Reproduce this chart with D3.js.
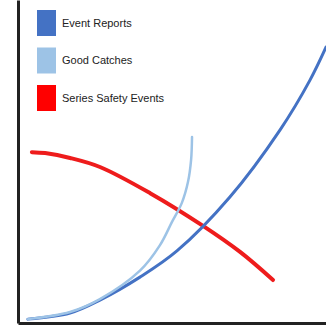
<!DOCTYPE html>
<html>
<head>
<meta charset="utf-8">
<script src="https://cdn.jsdelivr.net/npm/d3@7/dist/d3.min.js"></script>
<style>
  html, body { margin: 0; padding: 0; background: #fff; }
  svg { display: block; }
</style>
</head>
<body>
<svg id="chart" width="326" height="328"></svg>
<script>
// Series names and colours
const seriesNames = ["Event Reports", "Good Catches", "Series Safety Events"];
const seriesColors = ["#4472c4", "#9dc3e6", "#ee1c1c"];
const seriesWidths = [3, 2.5, 4];

// Trend values (x = time, y = level), unitless 0–10
const eventReportsX = [0.32, 1.69, 2.66, 3.96, 5.16, 6.88, 8.51, 9.48, 10.0];
const eventReportsY = [0.12, 0.31, 0.71, 1.42, 2.23, 3.90, 5.98, 7.52, 8.54];

const goodCatchesX = [0.32, 1.69, 2.66, 3.96, 4.61, 5.00, 5.32, 5.52, 5.62, 5.65];
const goodCatchesY = [0.12, 0.34, 0.74, 1.62, 2.41, 3.13, 3.72, 4.37, 5.05, 5.76];

const safetyEventsX = [0.45, 0.88, 1.69, 2.66, 4.29, 5.97, 7.21, 8.28];
const safetyEventsY = [5.29, 5.26, 5.11, 4.83, 4.02, 3.03, 2.20, 1.33];

const svg = d3.select("#chart");
const W = 326, H = 328;
const left = 18, bottom = 323;

const x = d3.scaleLinear().domain([0, 10]).range([left, W]);
const y = d3.scaleLinear().domain([0, 10]).range([bottom, 0]);

const series = [
  { name: seriesNames[0], xs: eventReportsX, ys: eventReportsY },
  { name: seriesNames[1], xs: goodCatchesX, ys: goodCatchesY },
  { name: seriesNames[2], xs: safetyEventsX, ys: safetyEventsY }
];

const line = d3.line()
  .x(d => x(d[0]))
  .y(d => y(d[1]))
  .curve(d3.curveCatmullRom.alpha(0.5));

// draw order: safety events, event reports, good catches on top
const order = [2, 0, 1];
order.forEach(i => {
  const s = series[i];
  svg.append("path")
    .datum(s.xs.map((v, k) => [v, s.ys[k]]))
    .attr("d", line)
    .attr("fill", "none")
    .attr("stroke", seriesColors[i])
    .attr("stroke-width", seriesWidths[i])
    .attr("stroke-linecap", "round");
});

// Axes: plain heavy lines without ticks
const xAxis = d3.axisBottom(x).ticks(0).tickSize(0);
const yAxis = d3.axisLeft(y).ticks(0).tickSize(0);
svg.append("g").attr("transform", `translate(0,${bottom})`).call(xAxis)
  .select(".domain").attr("stroke", "#222").attr("stroke-width", 3);
svg.append("g").attr("transform", `translate(${left},0)`).call(yAxis)
  .select(".domain").attr("stroke", "#222").attr("stroke-width", 3);

// Legend
const legend = svg.append("g").attr("transform", "translate(37,10)");
seriesNames.forEach((name, i) => {
  const g = legend.append("g").attr("transform", `translate(0,${i * 37.5})`);
  g.append("rect").attr("width", 19).attr("height", 26).attr("fill", i === 2 ? "#f00" : seriesColors[i]);
  g.append("text")
    .attr("x", 25).attr("y", 13)
    .attr("dy", "0.35em")
    .attr("font-family", "'Liberation Sans Narrow', 'Arial Narrow', 'Liberation Sans', sans-serif")
    .attr("font-size", 11)
    .attr("fill", "#222")
    .text(name);
});
</script>
</body>
</html>
